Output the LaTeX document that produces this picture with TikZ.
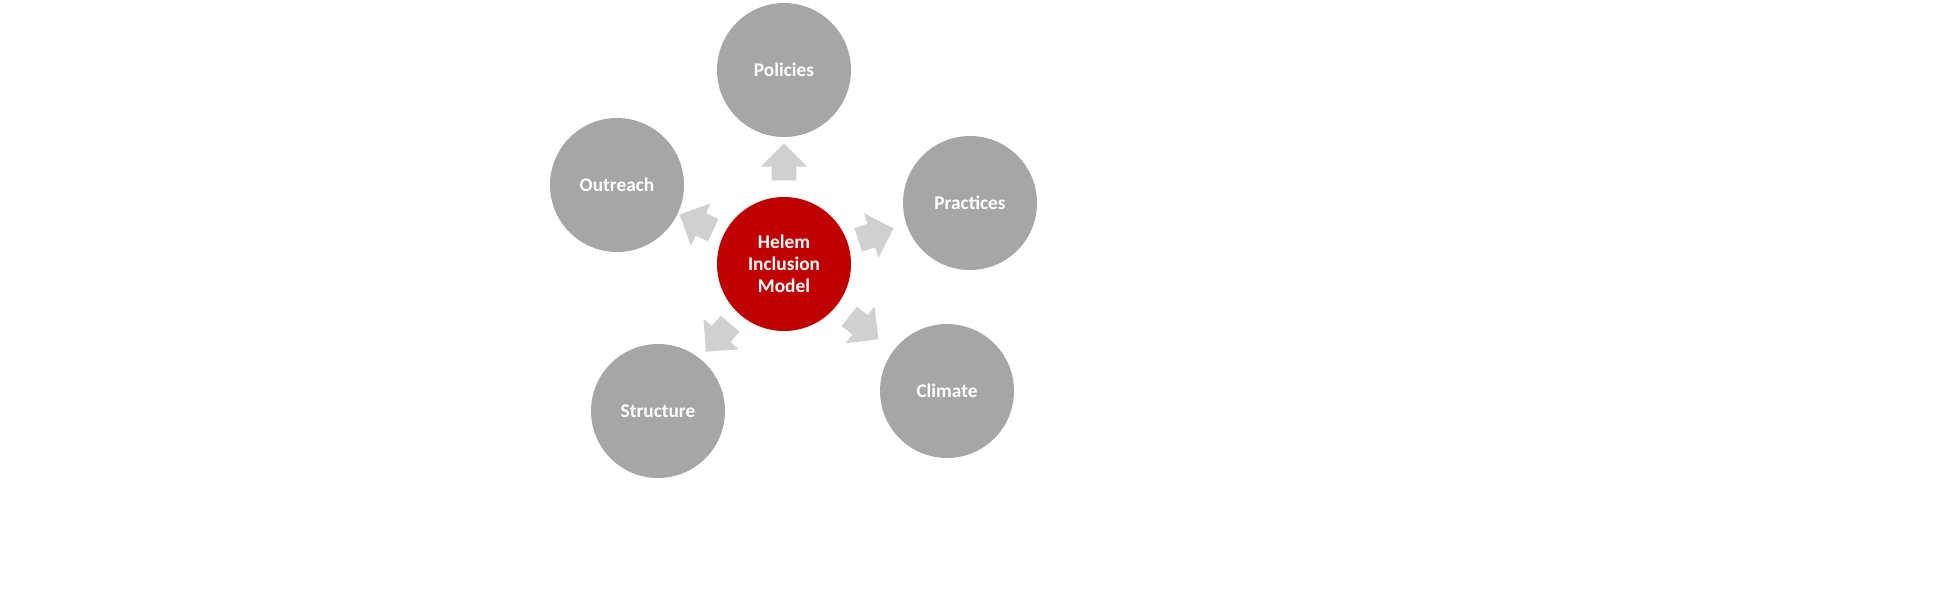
\documentclass[tikz,border=0pt]{standalone}
\usepackage{fontspec}
\setmainfont{Carlito}
\usetikzlibrary{shapes.arrows}
\definecolor{hubred}{RGB}{192,0,0}
\definecolor{petal}{RGB}{166,166,166}
\definecolor{blockgray}{RGB}{208,208,208}
\tikzset{
  petal/.style={circle, fill=petal, minimum size=2.68cm, inner sep=0pt,
    text=white, font=\bfseries\fontsize{11}{12.5}\selectfont, align=center},
  hub/.style={petal, fill=hubred},
  blockarrow/.style={single arrow, fill=blockgray, minimum height=0.62cm,
    inner sep=0.24cm, single arrow head extend=0.22cm,
    single arrow head indent=0cm, rotate=#1}
}
\begin{document}
\begin{tikzpicture}[x=0.02cm, y=-0.02cm]
    \useasboundingbox (0,0) rectangle (1956,609);

    % Hub and petals
    \node[hub] (hub) at (784,264) {Helem\\Inclusion\\Model};
    \node[petal] (policies) at (784,70) {Policies};
    \node[petal] (practices) at (970,203) {Practices};
    \node[petal] (climate) at (947,391) {Climate};
    \node[petal] (structure) at (658,411) {Structure};
    \node[petal] (outreach) at (617,185) {Outreach};

    % Block arrows pointing outward
    \node[blockarrow=90] (a1) at (784,168) {};
    \node[blockarrow=18] (a2) at (870,236) {};
    \node[blockarrow=-38] (a3) at (859,324) {};
    \node[blockarrow=229] (a4) at (722,333) {};
    \node[blockarrow=155] (a5) at (702,225) {};
\end{tikzpicture}
\end{document}
